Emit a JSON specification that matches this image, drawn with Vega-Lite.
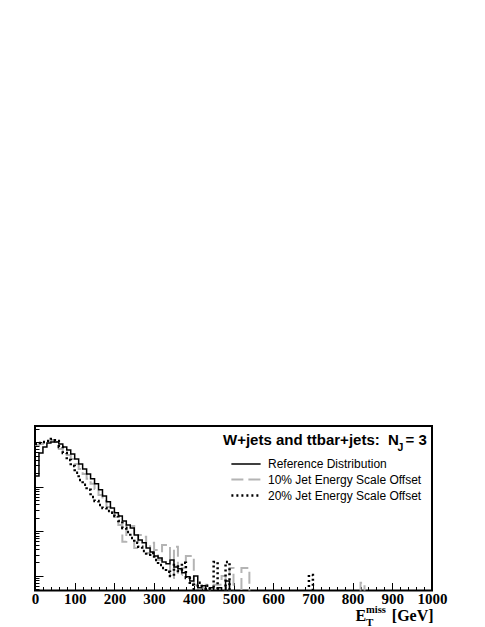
{
  "$schema": "https://vega.github.io/schema/vega-lite/v6.json",
  "width": 397,
  "height": 164.5,
  "autosize": {"type": "none"},
  "padding": {"left": 35, "top": 426, "right": 53, "bottom": 36.5},
  "background": "white",
  "config": {
    "view": {"stroke": "black", "strokeWidth": 2},
    "axis": {"labelOverlap": false, "labelBound": false, "labelFlush": false, "grid": false, "domain": false, "title": null}
  },
  "resolve": {"axis": {"x": "independent", "y": "independent"}},
  "layer": [
    {
      "data": {"values": [
        {"bin":0,"ref":175,"j10":865,"j20":912},
        {"bin":10,"ref":573,"j10":912,"j20":960},
        {"bin":20,"ref":780,"j10":960,"j20":1010},
        {"bin":30,"ref":960,"j10":1064,"j20":1064},
        {"bin":40,"ref":1010,"j10":1120,"j20":1180},
        {"bin":50,"ref":1010,"j10":1010,"j20":1064},
        {"bin":60,"ref":912,"j10":700,"j20":780},
        {"bin":70,"ref":780,"j10":600,"j20":573},
        {"bin":80,"ref":668,"j10":515,"j20":399},
        {"bin":90,"ref":544,"j10":420,"j20":292},
        {"bin":100,"ref":420,"j10":324,"j20":205},
        {"bin":110,"ref":324,"j10":251,"j20":142},
        {"bin":120,"ref":251,"j10":194,"j20":110},
        {"bin":130,"ref":194,"j10":150,"j20":85},
        {"bin":140,"ref":150,"j10":116,"j20":59},
        {"bin":150,"ref":116,"j10":89,"j20":48},
        {"bin":160,"ref":85,"j10":65,"j20":39},
        {"bin":170,"ref":62,"j10":48,"j20":33.5},
        {"bin":180,"ref":46,"j10":35,"j20":28.5},
        {"bin":190,"ref":33.5,"j10":27,"j20":25.9},
        {"bin":200,"ref":25.9,"j10":21,"j20":22.1},
        {"bin":210,"ref":22.1,"j10":13.9,"j20":17},
        {"bin":220,"ref":17,"j10":5.8,"j20":11.9},
        {"bin":230,"ref":13.9,"j10":13.9,"j20":9.7},
        {"bin":240,"ref":11.9,"j10":13.2,"j20":7.1},
        {"bin":250,"ref":8.3,"j10":4.2,"j20":5.5},
        {"bin":260,"ref":6.4,"j10":8.3,"j20":4.5},
        {"bin":270,"ref":5.5,"j10":7.5,"j20":3.6},
        {"bin":280,"ref":4.2,"j10":3.28,"j20":2.96},
        {"bin":290,"ref":3.45,"j10":5.5,"j20":3.28},
        {"bin":300,"ref":2.81,"j10":3.8,"j20":2.28},
        {"bin":310,"ref":2.53,"j10":2.28,"j20":1.76},
        {"bin":320,"ref":2.06,"j10":4.9,"j20":1.51},
        {"bin":330,"ref":1.86,"j10":4.9,"j20":1.23},
        {"bin":340,"ref":2.28,"j10":0.9,"j20":1.0},
        {"bin":350,"ref":1.59,"j10":4.5,"j20":1.76},
        {"bin":360,"ref":1.44,"j10":1.05,"j20":1.29},
        {"bin":370,"ref":1.17,"j10":1.51,"j20":1.96},
        {"bin":380,"ref":0.95,"j10":2.81,"j20":0.9},
        {"bin":390,"ref":0.77,"j10":2.81,"j20":0.63},
        {"bin":400,"ref":1.0,"j10":0.63,"j20":0.1},
        {"bin":410,"ref":0.54,"j10":0.63,"j20":0.7},
        {"bin":420,"ref":0.6,"j10":0.54,"j20":0.1},
        {"bin":430,"ref":0.1,"j10":0.63,"j20":0.6},
        {"bin":440,"ref":0.54,"j10":0.1,"j20":0.1},
        {"bin":450,"ref":0.1,"j10":0.63,"j20":2.06},
        {"bin":460,"ref":0.54,"j10":0.63,"j20":0.1},
        {"bin":470,"ref":0.1,"j10":1.0,"j20":0.1},
        {"bin":480,"ref":0.77,"j10":0.1,"j20":2.06},
        {"bin":490,"ref":0.1,"j10":1.51,"j20":0.1},
        {"bin":500,"ref":0.1,"j10":0.1,"j20":0.1},
        {"bin":510,"ref":0.1,"j10":0.1,"j20":0.1},
        {"bin":520,"ref":0.1,"j10":1.51,"j20":0.1},
        {"bin":530,"ref":0.1,"j10":1.51,"j20":0.1},
        {"bin":540,"ref":0.1,"j10":0.1,"j20":0.1},
        {"bin":550,"ref":0.1,"j10":0.1,"j20":0.1},
        {"bin":560,"ref":0.1,"j10":0.1,"j20":0.1},
        {"bin":570,"ref":0.1,"j10":0.1,"j20":0.1},
        {"bin":580,"ref":0.1,"j10":0.1,"j20":0.1},
        {"bin":590,"ref":0.1,"j10":0.1,"j20":0.1},
        {"bin":600,"ref":0.1,"j10":0.1,"j20":0.1},
        {"bin":610,"ref":0.1,"j10":0.1,"j20":0.1},
        {"bin":620,"ref":0.1,"j10":0.1,"j20":0.1},
        {"bin":630,"ref":0.1,"j10":0.1,"j20":0.1},
        {"bin":640,"ref":0.1,"j10":0.1,"j20":0.1},
        {"bin":650,"ref":0.1,"j10":0.1,"j20":0.1},
        {"bin":660,"ref":0.1,"j10":0.1,"j20":0.1},
        {"bin":670,"ref":0.1,"j10":0.1,"j20":0.1},
        {"bin":680,"ref":0.1,"j10":0.1,"j20":0.1},
        {"bin":690,"ref":0.1,"j10":0.1,"j20":1.05},
        {"bin":700,"ref":0.1,"j10":0.1,"j20":0.1},
        {"bin":710,"ref":0.1,"j10":0.1,"j20":0.1},
        {"bin":720,"ref":0.1,"j10":0.1,"j20":0.1},
        {"bin":730,"ref":0.1,"j10":0.1,"j20":0.1},
        {"bin":740,"ref":0.1,"j10":0.1,"j20":0.1},
        {"bin":750,"ref":0.1,"j10":0.1,"j20":0.1},
        {"bin":760,"ref":0.1,"j10":0.1,"j20":0.1},
        {"bin":770,"ref":0.1,"j10":0.1,"j20":0.1},
        {"bin":780,"ref":0.1,"j10":0.1,"j20":0.1},
        {"bin":790,"ref":0.1,"j10":0.1,"j20":0.1},
        {"bin":800,"ref":0.1,"j10":0.1,"j20":0.1},
        {"bin":810,"ref":0.1,"j10":0.1,"j20":0.1},
        {"bin":820,"ref":0.1,"j10":0.7,"j20":0.1},
        {"bin":830,"ref":0.1,"j10":0.1,"j20":0.1},
        {"bin":840,"ref":0.1,"j10":0.1,"j20":0.1},
        {"bin":850,"ref":0.1,"j10":0.1,"j20":0.1},
        {"bin":860,"ref":0.1,"j10":0.1,"j20":0.1},
        {"bin":870,"ref":0.1,"j10":0.1,"j20":0.1},
        {"bin":880,"ref":0.1,"j10":0.1,"j20":0.1},
        {"bin":890,"ref":0.1,"j10":0.1,"j20":0.1},
        {"bin":900,"ref":0.1,"j10":0.1,"j20":0.1},
        {"bin":910,"ref":0.1,"j10":0.1,"j20":0.1},
        {"bin":920,"ref":0.1,"j10":0.1,"j20":0.1},
        {"bin":930,"ref":0.1,"j10":0.1,"j20":0.1},
        {"bin":940,"ref":0.1,"j10":0.1,"j20":0.1},
        {"bin":950,"ref":0.1,"j10":0.1,"j20":0.1},
        {"bin":960,"ref":0.1,"j10":0.1,"j20":0.1},
        {"bin":970,"ref":0.1,"j10":0.1,"j20":0.1},
        {"bin":980,"ref":0.1,"j10":0.1,"j20":0.1},
        {"bin":990,"ref":0.1,"j10":0.1,"j20":0.1},
        {"bin":1000,"ref":0.1,"j10":0.1,"j20":0.1}
      ]},
      "transform": [{"fold": ["j10", "j20", "ref"], "as": ["series", "value"]}],
      "mark": {"type": "line", "interpolate": "step-after", "clip": true},
      "encoding": {
        "x": {
          "field": "bin", "type": "quantitative",
          "scale": {"domain": [0, 1000], "nice": false, "zero": false},
          "axis": {
            "orient": "bottom",
            "values": [0,100,200,300,400,500,600,700,800,900,1000],
            "title": null, "domain": false, "grid": false, "format": "d", "ticks": false,
            "labelFont": "Liberation Serif", "labelFontWeight": "bold", "labelFontSize": 15,
            "labelColor": "black", "labelPadding": 1, "labelFlush": false, "labelOverlap": false, "labelBound": false
          }
        },
        "y": {
          "field": "value", "type": "quantitative",
          "scale": {"type": "log", "domain": [0.47, 2300], "nice": false},
          "axis": {
            "orient": "left",
            "values": [0.5,0.6,0.7,0.8,0.9,1,2,3,4,5,6,7,8,9,10,20,30,40,50,60,70,80,90,100,200,300,400,500,600,700,800,900,1000,2000],
            "labels": false, "title": null, "domain": false, "grid": false,
            "tickColor": "black", "tickWidth": 1,
            "tickSize": {"condition": {"test": "indexof([1,10,100,1000], datum.value) >= 0", "value": -8}, "value": -4}
          }
        },
        "color": {
          "field": "series", "type": "nominal",
          "scale": {"domain": ["ref", "j10", "j20"], "range": ["#000000", "#b4b4b4", "#000000"]},
          "legend": {
            "orient": "none", "legendX": 202, "legendY": 29.5, "title": null, "padding": 0,
            "symbolType": "M-1.95,0H1.95", "symbolSize": 225, "rowPadding": 0.5, "labelOffset": 13,
            "labelFont": "Liberation Sans", "labelFontSize": 12, "labelColor": "black",
            "labelExpr": "datum.label == 'ref' ? 'Reference Distribution' : datum.label == 'j10' ? '10% Jet Energy Scale Offset' : '20% Jet Energy Scale Offset'"
          }
        },
        "strokeDash": {
          "field": "series", "type": "nominal",
          "scale": {"domain": ["ref", "j10", "j20"], "range": [[1, 0], [12, 5], [2, 3]]},
          "legend": {
            "orient": "none", "legendX": 202, "legendY": 29.5, "title": null, "padding": 0,
            "symbolType": "M-1.95,0H1.95", "symbolSize": 225, "rowPadding": 0.5, "labelOffset": 13,
            "labelFont": "Liberation Sans", "labelFontSize": 12, "labelColor": "black",
            "labelExpr": "datum.label == 'ref' ? 'Reference Distribution' : datum.label == 'j10' ? '10% Jet Energy Scale Offset' : '20% Jet Energy Scale Offset'"
          }
        },
        "strokeWidth": {
          "field": "series", "type": "nominal",
          "scale": {"domain": ["ref", "j10", "j20"], "range": [1.5, 2.5, 2]},
          "legend": {
            "orient": "none", "legendX": 202, "legendY": 29.5, "title": null, "padding": 0,
            "symbolType": "M-1.95,0H1.95", "symbolSize": 225, "rowPadding": 0.5, "labelOffset": 13,
            "labelFont": "Liberation Sans", "labelFontSize": 12, "labelColor": "black",
            "labelExpr": "datum.label == 'ref' ? 'Reference Distribution' : datum.label == 'j10' ? '10% Jet Energy Scale Offset' : '20% Jet Energy Scale Offset'"
          }
        }
      }
    },
    {
      "data": {"values": [{}]},
      "mark": {"type": "text", "text": "W+jets and ttbar+jets:\u00a0 N", "align": "left", "baseline": "alphabetic", "font": "Liberation Sans", "fontWeight": "bold", "fontSize": 15, "color": "black"},
      "encoding": {
        "x": {"datum": 473.6, "type": "quantitative", "axis": {
          "orient": "top", "offset": -164.5,
          "values": [0,20,40,60,80,100,120,140,160,180,200,220,240,260,280,300,320,340,360,380,400,420,440,460,480,500,520,540,560,580,600,620,640,660,680,700,720,740,760,780,800,820,840,860,880,900,920,940,960,980,1000],
          "labels": false, "title": null, "domain": false, "grid": false,
          "tickColor": "black", "tickWidth": 1,
          "tickSize": {"condition": {"test": "datum.value % 100 === 0", "value": 8}, "value": 4}
        }},
        "y": {"datum": 865, "type": "quantitative", "axis": null}
      }
    },
    {
      "data": {"values": [{}]},
      "mark": {"type": "text", "text": "J", "align": "left", "baseline": "alphabetic", "font": "Liberation Sans", "fontWeight": "bold", "fontSize": 10.5, "color": "black"},
      "encoding": {"x": {"datum": 913, "type": "quantitative", "axis": null}, "y": {"datum": 620, "type": "quantitative", "axis": null}}
    },
    {
      "data": {"values": [{}]},
      "mark": {"type": "text", "text": "= 3", "align": "right", "baseline": "alphabetic", "font": "Liberation Sans", "fontWeight": "bold", "fontSize": 15, "color": "black"},
      "encoding": {"x": {"datum": 987, "type": "quantitative", "axis": null}, "y": {"datum": 865, "type": "quantitative", "axis": null}}
    },
    {
      "data": {"values": [{}]},
      "mark": {"type": "text", "text": "E", "align": "right", "baseline": "alphabetic", "dy": 30.5, "font": "Liberation Serif", "fontWeight": "bold", "fontSize": 16, "color": "black"},
      "encoding": {"x": {"datum": 834, "type": "quantitative", "axis": null}, "y": {"datum": 0.47, "type": "quantitative", "axis": null}}
    },
    {
      "data": {"values": [{}]},
      "mark": {"type": "text", "text": "miss", "align": "left", "baseline": "alphabetic", "dy": 22.5, "font": "Liberation Serif", "fontWeight": "bold", "fontSize": 10.5, "color": "black"},
      "encoding": {"x": {"datum": 834, "type": "quantitative", "axis": null}, "y": {"datum": 0.47, "type": "quantitative", "axis": null}}
    },
    {
      "data": {"values": [{}]},
      "mark": {"type": "text", "text": "T", "align": "left", "baseline": "alphabetic", "dy": 35, "font": "Liberation Serif", "fontWeight": "bold", "fontSize": 11, "color": "black"},
      "encoding": {"x": {"datum": 834, "type": "quantitative", "axis": null}, "y": {"datum": 0.47, "type": "quantitative", "axis": null}}
    },
    {
      "data": {"values": [{}]},
      "mark": {"type": "text", "text": "[GeV]", "align": "right", "baseline": "alphabetic", "dy": 30.5, "font": "Liberation Serif", "fontWeight": "bold", "fontSize": 16, "color": "black"},
      "encoding": {"x": {"datum": 1004, "type": "quantitative", "axis": null}, "y": {"datum": 0.47, "type": "quantitative", "axis": null}}
    }
  ]
}
